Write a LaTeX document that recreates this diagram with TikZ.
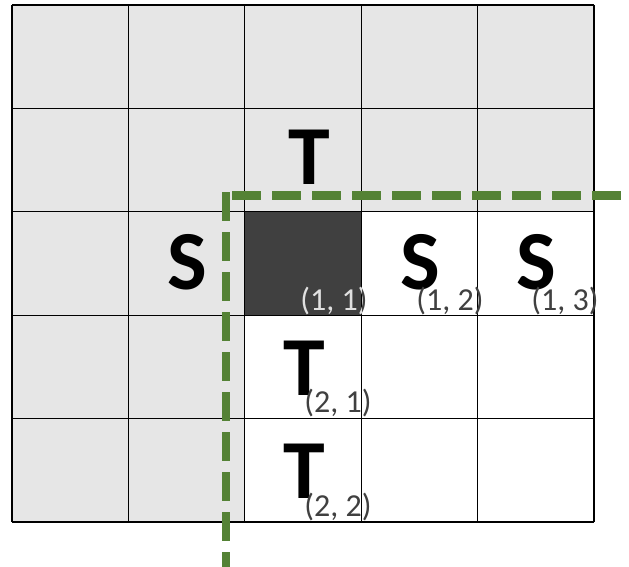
\documentclass[tikz,border=0pt]{standalone}
\usepackage{fontspec}
\setmainfont{Carlito}
\usepackage{tikz}
\usetikzlibrary{positioning}
\definecolor{gridgray}{HTML}{E6E6E6}
\definecolor{celldark}{HTML}{404040}
\definecolor{cutgreen}{HTML}{548235}

\begin{document}
\begin{tikzpicture}[
    x=1pt,y=-1pt,
    gline/.style  = {draw=black,line width=1.3pt},
    letr/.style   = {inner sep=0pt,font=\fontsize{84}{84}\selectfont\bfseries},
    idx/.style    = {inner sep=0pt,font=\fontsize{32}{32}\selectfont,text=black!75},
    cut/.style    = {cutgreen,line width=8.5pt,dash pattern=on 29pt off 11pt},
  ]

  \useasboundingbox (0,0) rectangle (629,567);
  \fill[white] (0,0) rectangle (629,567);

  % cells
  \fill[gridgray]  (12,5) rectangle (594,522);
  \fill[white]     (244.8,211.8) rectangle (594,522);
  \fill[celldark]  (244.8,211.8) rectangle (361.2,315.2);

  \foreach \x in {12,128.4,244.8,361.2,477.6,594}
    \draw[gline] (\x,5) -- (\x,522);
  \foreach \y in {5,108.4,211.8,315.2,418.6,522}
    \draw[gline] (12,\y) -- (594,\y);

  % letters
  \node[letr] (t0) at (309,157) {T};
  \node[letr] (s0) at (187,262) {S};
  \node[letr] (s1) at (420,262) {S};
  \node[letr] (s2) at (536,262) {S};
  \node[letr] (t1) at (304,368) {T};
  \node[letr] (t2) at (304,471) {T};

  \node[idx] (i11) at (334,301) {(1, 1)};
  \begin{scope}
    \clip (244.8,211.8) rectangle (361.2,315.2);
    \node[idx,text=black!12] (i11w) at (334,301) {(1, 1)};
  \end{scope}
  \node[idx] (i12) at (450,301) {(1, 2)};
  \node[idx] (i13) at (565,301) {(1, 3)};
  \node[idx] (i21) at (338,403) {(2, 1)};
  \node[idx] (i22) at (338,507) {(2, 2)};

  % cut lines
  \coordinate (cuttop) at (226,192);
  \coordinate (cutfoot) at (226,575);
  \coordinate (cutleft) at (232,195.5);
  \coordinate (cutright) at (622,195.5);
  \draw[cut] (cuttop) -- (cutfoot);
  \draw[cut] (cutleft) -- (cutright);

\end{tikzpicture}
\end{document}
